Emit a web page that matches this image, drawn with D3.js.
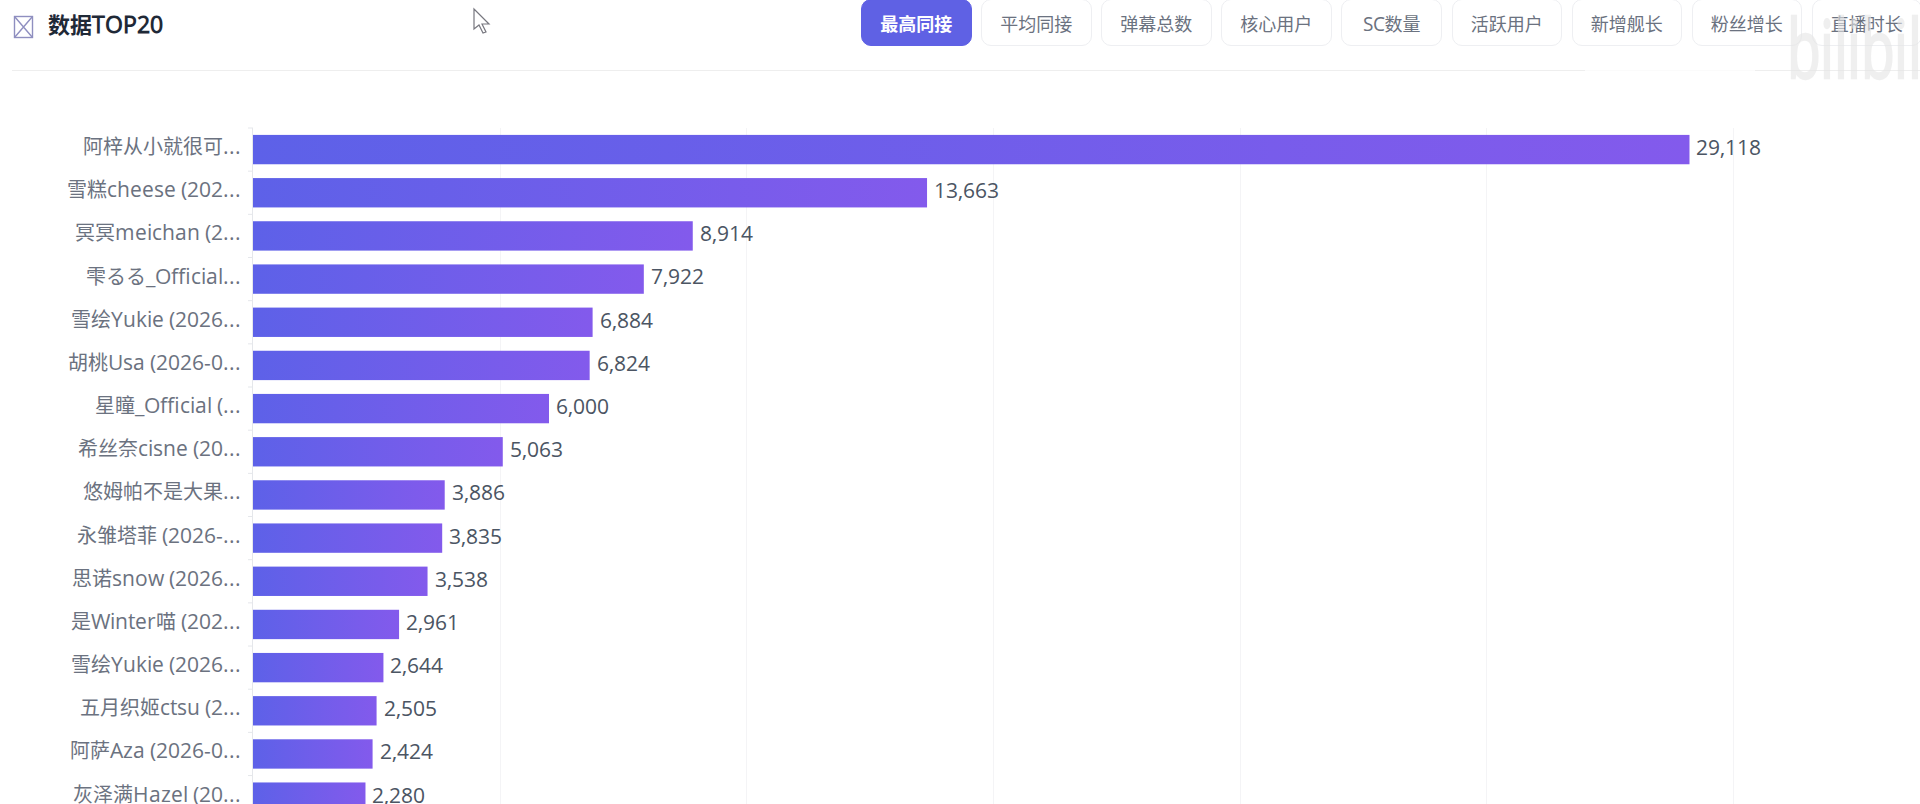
<!DOCTYPE html>
<html lang="zh">
<head>
    <meta charset="UTF-8">
    <title>数据TOP20</title>
    <style>
        /* latin glyphs run a little wider than the cjk ones in the original */
        @font-face { font-family: "LatinWide"; src: local("Open Sans"); size-adjust: 104%; unicode-range: U+0020-007E; }
        html, body { margin: 0; padding: 0; width: 1920px; height: 804px; overflow: hidden; background: #fff; }
        body { position: relative; font-family: "LatinWide", "Open Sans", "Noto Sans CJK SC", sans-serif; }
        #title { position: absolute; left: 48px; top: 9px; font-size: 22px; line-height: 32px; font-weight: 700; color: #1f2937; }
        #tabs { position: absolute; left: 861px; top: -1px; display: flex; gap: 9.5px; white-space: nowrap; }
        #tabs div { box-sizing: border-box; height: 47px; line-height: 47px; padding: 0 18.25px; font-size: 18px; color: #6b7280;
                    border: 1px solid #eeeff2; border-radius: 10px; background: #fff; }
        #tabs div:nth-child(5) { padding: 0 20.5px; }
        #tabs div.on { background: #5f61e4; border-color: #5f61e4; color: #fff; font-weight: 600; }
        #chart { position: absolute; left: 0; top: 0; }
        #mark { position: absolute; left: 0; top: 0; pointer-events: none; }
        .y-axis text { font-size: 20px; fill: #6b7280; }
        .y-axis .domain { display: none; }
        .value { font-size: 20px; fill: #4b5563; }
    </style>
</head>
<body>
    <svg id="chart" width="1920" height="804"></svg>
    <div id="title">数据TOP20</div>
    <div id="tabs"></div>
    <svg id="mark" width="1920" height="804"></svg>
    <script src="https://d3js.org/d3.v7.min.js"></script>
    <script>
        const tabs = ["最高同接", "平均同接", "弹幕总数", "核心用户", "SC数量", "活跃用户", "新增舰长", "粉丝增长", "直播时长"];
        const names = [
            "阿梓从小就很可...", "雪糕cheese (202...", "冥冥meichan (2...", "雫るる_Official...",
            "雪绘Yukie (2026...", "胡桃Usa (2026-0...", "星瞳_Official (...", "希丝奈cisne (20...",
            "悠姆帕不是大果...", "永雏塔菲 (2026-...", "思诺snow (2026...", "是Winter喵 (202...",
            "雪绘Yukie (2026...", "五月织姬ctsu (2...", "阿萨Aza (2026-0...", "灰泽满Hazel (20..."
        ];
        const values = [29118, 13663, 8914, 7922, 6884, 6824, 6000, 5063, 3886, 3835, 3538, 2961, 2644, 2505, 2424, 2280];

        const left = 253, top_ = 128, step = 43.17;

        d3.select("#tabs").selectAll("div")
            .data(tabs)
            .join("div")
            .attr("class", (d, i) => i === 0 ? "on" : null)
            .text(d => d);

        const svg = d3.select("#chart");

        const x = d3.scaleLinear().domain([0, 30000]).range([left, 1733]);
        const y = d3.scaleBand()
            .domain(d3.range(names.length))
            .range([top_, top_ + step * names.length])
            .paddingInner(0.32)
            .paddingOuter(0.16);

        const gradient = svg.append("defs")
            .append("linearGradient")
            .attr("id", "bar-fill")
            .attr("x1", "0%")
            .attr("x2", "100%");
        gradient.append("stop").attr("offset", "0%").attr("stop-color", "#5d61e8");
        gradient.append("stop").attr("offset", "100%").attr("stop-color", "#835aec");

        // header icon (broken image box) and divider
        const icon = svg.append("g")
            .attr("fill", "none")
            .attr("stroke", "#8f8fc0")
            .attr("stroke-width", 1.4);
        icon.append("rect").attr("x", 14.5).attr("y", 16.5).attr("width", 18).attr("height", 21);
        icon.append("path").attr("d", "M14.5 16.5L32.5 37.5M32.5 16.5L14.5 37.5");

        svg.append("line")
            .attr("x1", 12).attr("x2", 1920)
            .attr("y1", 70.5).attr("y2", 70.5)
            .attr("stroke", "#eeeeee");

        svg.append("g")
            .selectAll("line")
            .data(x.ticks(6).slice(1))
            .join("line")
            .attr("x1", d => Math.round(x(d)) + 0.5)
            .attr("x2", d => Math.round(x(d)) + 0.5)
            .attr("y1", top_)
            .attr("y2", 804)
            .attr("stroke", "#f4f4f6");

        // axis line and the ticks between the rows
        svg.append("line")
            .attr("x1", left - 0.5).attr("x2", left - 0.5)
            .attr("y1", top_).attr("y2", 804)
            .attr("stroke", "#e5e7eb");
        svg.append("g")
            .selectAll("line")
            .data(d3.range(names.length + 1))
            .join("line")
            .attr("x1", left - 5)
            .attr("x2", left)
            .attr("y1", d => top_ + d * step)
            .attr("y2", d => top_ + d * step)
            .attr("stroke", "#e5e7eb");

        svg.append("g")
            .attr("class", "y-axis")
            .attr("transform", "translate(" + left + ",0)")
            .call(d3.axisLeft(y).tickSize(0).tickPadding(12).tickFormat(i => names[i]))
            .attr("font-family", null)
            .call(g => g.selectAll("text").attr("dy", "0.22em"));

        svg.append("g")
            .selectAll("rect")
            .data(values)
            .join("rect")
            .attr("x", x(0))
            .attr("y", (d, i) => y(i))
            .attr("width", d => x(d) - x(0))
            .attr("height", y.bandwidth())
            .attr("fill", "url(#bar-fill)");

        svg.append("g")
            .selectAll("text")
            .data(values)
            .join("text")
            .attr("class", "value")
            .attr("x", d => x(d) + 7)
            .attr("y", (d, i) => y(i) + y.bandwidth() / 2)
            .attr("dy", "0.27em")
            .text(d3.format(","));

        // mouse pointer left in the frame
        svg.append("path")
            .attr("d", "M474 9L474 29L479 25L483 33L486 32L482 24L489 24Z")
            .attr("fill", "#fff")
            .attr("stroke", "#77777f")
            .attr("stroke-width", 1.2);

        // video watermark sits over the tabs
        const mark = d3.select("#mark");
        mark.append("rect")
            .attr("x", 1585).attr("y", 48)
            .attr("width", 170).attr("height", 25)
            .attr("fill", "#fff")
            .attr("fill-opacity", 0.75);
        mark.append("text")
            .attr("transform", "translate(1787,78) scale(0.85,1.25)")
            .attr("font-size", 62)
            .attr("font-weight", 700)
            .attr("fill", "#e4e4e4")
            .attr("fill-opacity", 0.6)
            .text("bilibili");
    </script>
</body>
</html>
